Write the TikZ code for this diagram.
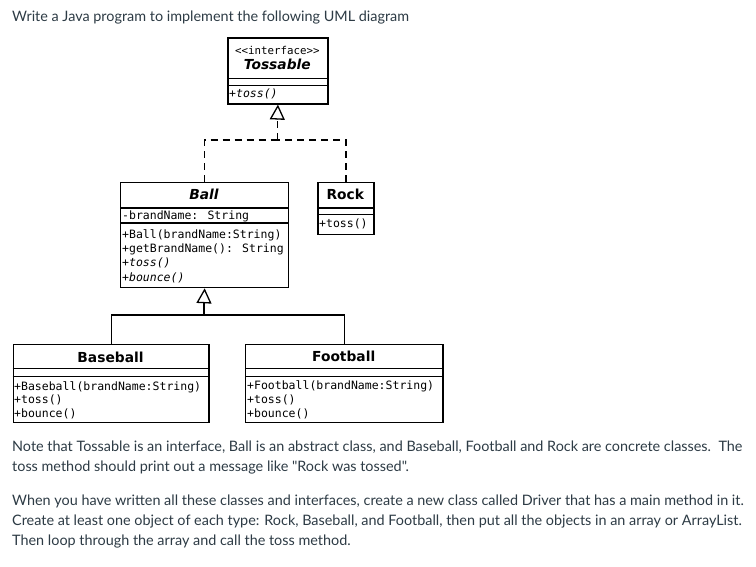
\documentclass[tikz,border=0pt]{standalone}
\usepackage{fontspec}
\setmainfont{Lato}[Ligatures=TeXOff]
\newfontfamily\umlsans{DejaVu Sans}
\newfontfamily\umlmono{DejaVu Sans Mono}
\usetikzlibrary{arrows.meta}
\definecolor{bodytext}{HTML}{2D3B45}
\tikzset{
  box/.style={draw, line width=1.3pt, inner sep=0pt, anchor=north west},
  sep/.style={line width=1.3pt},
  hdr/.style={font=\umlsans\bfseries\fontsize{13.8}{15}\selectfont, anchor=base, inner sep=0pt},
  mono/.style={font=\umlmono\fontsize{11.5}{14}\selectfont, anchor=base west, inner sep=0pt},
  bodyline/.style={font=\fontsize{14.4}{20}\selectfont, text=bodytext, anchor=base west, inner sep=0pt},
  conn/.style={line width=1.3pt},
  realize/.style={conn, dash pattern=on 7pt off 5pt},
  gen/.style={conn, -{Triangle[open, length=15pt, width=15pt, line width=1.3pt]}}
}
\begin{document}
\begin{tikzpicture}[x=1pt, y=-1pt]
\useasboundingbox[fill=white] (0,0) rectangle (756,567);

% title
\node[bodyline] (title) at (12,21.7) {Write a Java program to implement the following UML diagram};

% Tossable
\node[box, minimum width=100pt, minimum height=65.8pt] (toss) at (227.3,37.5) {};
\draw[sep] (toss.west |- 0,78.5) -- (toss.east |- 0,78.5);
\draw[sep] (toss.west |- 0,85.5) -- (toss.east |- 0,85.5);
\node[mono, anchor=base, font=\umlmono\fontsize{10.8}{12}\selectfont] (tossst) at (277.3,54.5) {\textless\textless interface\textgreater\textgreater};
\node[hdr] (tossname) at (277.3,70) {\itshape Tossable};
\node[mono] (tossm) at (229,97.5) {\itshape +toss()};

% Ball
\node[box, minimum width=168pt, minimum height=105pt] (ball) at (120,182) {};
\draw[sep] (ball.west |- 0,208) -- (ball.east |- 0,208);
\draw[sep] (ball.west |- 0,223) -- (ball.east |- 0,223);
\node[hdr] (ballname) at (204,200) {\itshape Ball};
\node[mono] (balla) at (122,220) {-brandName: String};
\node[mono] (ballm1) at (122,239) {+Ball(brandName:String)};
\node[mono] (ballm2) at (122,253) {+getBrandName(): String};
\node[mono] (ballm3) at (122,267) {\itshape +toss()};
\node[mono] (ballm4) at (122,281) {\itshape +bounce()};

% Rock
\node[box, minimum width=56pt, minimum height=52pt] (rock) at (317.3,182) {};
\draw[sep] (rock.west |- 0,208) -- (rock.east |- 0,208);
\draw[sep] (rock.west |- 0,214.5) -- (rock.east |- 0,214.5);
\node[hdr] (rockname) at (345.3,200) {Rock};
\node[mono] (rockm) at (319,227.5) {+toss()};

% Baseball
\node[box, minimum width=195.6pt, minimum height=78pt] (base) at (12.7,344) {};
\draw[sep] (base.west |- 0,368.3) -- (base.east |- 0,368.3);
\draw[sep] (base.west |- 0,376.5) -- (base.east |- 0,376.5);
\node[hdr] (basename) at (110.5,362) {Baseball};
\node[mono] (basem1) at (14,390) {+Baseball(brandName:String)};
\node[mono] (basem2) at (14,403.5) {+toss()};
\node[mono] (basem3) at (14,417) {+bounce()};

% Football
\node[box, minimum width=197.3pt, minimum height=78pt] (foot) at (245,344) {};
\draw[sep] (foot.west |- 0,368.3) -- (foot.east |- 0,368.3);
\draw[sep] (foot.west |- 0,376.5) -- (foot.east |- 0,376.5);
\node[hdr] (footname) at (343.7,361) {Football};
\node[mono] (footm1) at (247,389.5) {+Football(brandName:String)};
\node[mono] (footm2) at (247,403) {+toss()};
\node[mono] (footm3) at (247,417) {+bounce()};

% realization connectors
\coordinate (rjoin) at (277.3,140);
\coordinate (rtri) at (277.3,119);
\draw[realize] (ball.north) |- (rjoin);
\draw[realize] (rock.north) |- (rjoin);
\draw[realize] (rjoin) -- (rtri);
\draw[gen] (rtri) -- (toss.south);

% generalization connectors
\coordinate (gjoin) at (204,315);
\coordinate (gtri) at (204,302.5);
\draw[conn] (base.north) |- (gjoin);
\draw[conn] (foot.north) |- (gjoin);
\draw[conn] (gjoin) -- (gtri);
\draw[gen] (gtri) -- (ball.south);

% body text
\node[bodyline] (p1a) at (12,451.7) {Note that Tossable is an interface, Ball is an abstract class, and Baseball, Football and Rock are concrete classes.\ \ The};
\node[bodyline] (p1b) at (12,471.7) {toss method should print out a message like "Rock was tossed".};
\node[bodyline] (p2a) at (12,505) {When you have written all these classes and interfaces, create a new class called Driver that has a main method in it.};
\node[bodyline] (p2b) at (12,525) {Create at least one object of each type: Rock, Baseball, and Football, then put all the objects in an array or ArrayList.};
\node[bodyline] (p2c) at (12,545) {Then loop through the array and call the toss method.};
\end{tikzpicture}
\end{document}
